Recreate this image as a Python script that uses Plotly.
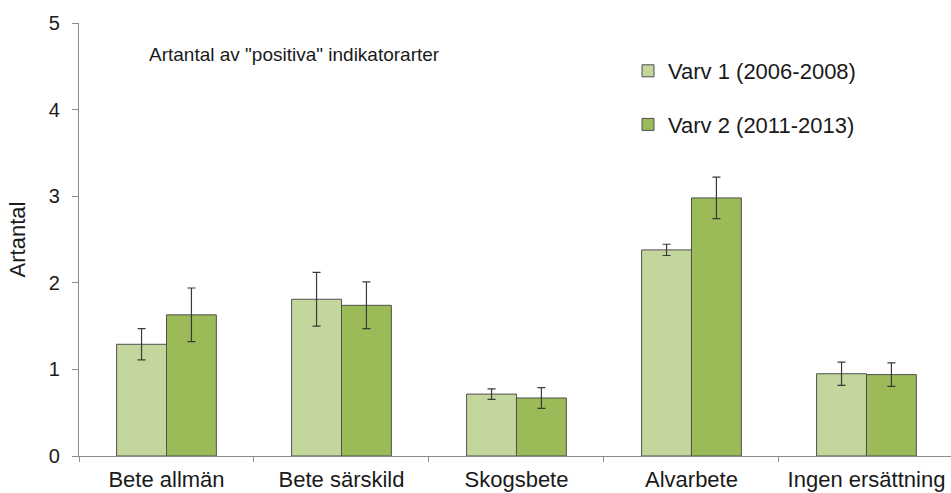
import plotly.graph_objects as go

categories = ["Bete allmän", "Bete särskild", "Skogsbete", "Alvarbete", "Ingen ersättning"]
varv1 = [1.29, 1.81, 0.715, 2.38, 0.95]
varv1_err = [0.18, 0.31, 0.06, 0.065, 0.135]
varv2 = [1.63, 1.74, 0.67, 2.98, 0.94]
varv2_err = [0.31, 0.27, 0.12, 0.24, 0.135]
series_names = ["Varv 1 (2006-2008)", "Varv 2 (2011-2013)"]
y_ticks = [0, 1, 2, 3, 4, 5]

FONT = "Liberation Sans, Arial, sans-serif"
TXT = "#1a1a1a"
colors = ["#c3d69b", "#9bbb59"]

L, T, B, W, H = 79, 23, 37, 951, 493
PW, PH = W - L, H - T - B

fig = go.Figure()
for name, vals, errs, col, grp in zip(series_names, [varv1, varv2], [varv1_err, varv2_err], colors, ["a", "b"]):
    fig.add_trace(go.Bar(
        x=categories, y=vals, name=name, legendgroup=grp,
        marker=dict(color=col, line=dict(color="#505050", width=1)),
        error_y=dict(type="data", array=errs, visible=True, color="#3a3a3a", thickness=1.2, width=4),
    ))

fig.update_layout(
    width=W, height=H,
    margin=dict(l=L, r=0, t=T, b=B, autoexpand=False),
    plot_bgcolor="white", paper_bgcolor="white",
    barmode="group", bargap=0.43, bargroupgap=0,
    font=dict(family=FONT, size=22, color=TXT),
    showlegend=True,
    legend=dict(x=(628 - L) / PW, y=(H - B - 50) / PH, xanchor="left", yanchor="top", traceorder="grouped",
                tracegroupgap=22, font=dict(size=22, family=FONT, color=TXT),
                bgcolor="rgba(0,0,0,0)", itemwidth=30),
    annotations=[dict(text='Artantal av "positiva" indikatorarter',
                      x=(147 - L) / PW, y=(H - B - 55) / PH, xanchor="left", yanchor="middle",
                      xref="paper", yref="paper", showarrow=False,
                      font=dict(size=19, family=FONT, color=TXT))],
)

fig.update_xaxes(
    range=[-0.5, 4.483], showline=True, linecolor="#8c8c8c", linewidth=1.3,
    ticks="outside", tickson="boundaries", ticklen=5, tickcolor="#8c8c8c",
    showgrid=False, automargin=False, tickfont=dict(size=22, family=FONT, color=TXT),
    ticklabelstandoff=3,
)
fig.update_yaxes(
    range=[0, 5], tickvals=y_ticks, showline=True, linecolor="#8c8c8c", linewidth=1.3,
    ticks="outside", ticklen=6, tickcolor="#8c8c8c", showgrid=False, zeroline=False,
    automargin=False, tickfont=dict(size=20, family=FONT, color=TXT), ticklabelstandoff=8,
    title=dict(text="Artantal", font=dict(size=22, family=FONT, color=TXT), standoff=17),
)

fig.write_html("out.html", config={"displayModeBar": False},
               post_script="document.body.style.margin='0';document.body.style.overflow='hidden';")
